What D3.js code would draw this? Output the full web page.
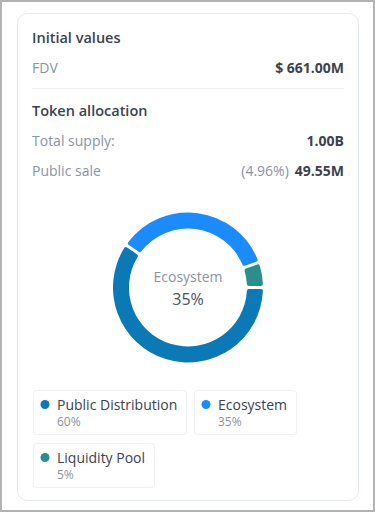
<!DOCTYPE html>
<html>
<head>
<meta charset="utf-8">
<script src="https://cdn.jsdelivr.net/npm/d3@7"></script>
<style>
  html, body { margin: 0; padding: 0; background: #fff; }
  body { width: 375px; height: 512px; overflow: hidden; }
  svg { display: block; font-family: "Open Sans", "Noto Sans", sans-serif; }
</style>
</head>
<body>
<script>
// chart data
const labels = ["Public Distribution", "Ecosystem", "Liquidity Pool"];
const values = [60, 35, 5];
const colors = ["#0a79b6", "#1a8cff", "#2a8f8c"];
const activeIndex = 1; // slice shown in the centre

// info rows
const sections = ["Initial values", "Token allocation"];
const fdv = "$ 661.00M";
const totalSupply = "1.00B";
const publicSalePct = "(4.96%)";
const publicSale = "49.55M";

const width = 375, height = 512;
const dark = "#3b4250", grey = "#8a93a5";

const svg = d3.select("body").append("svg")
  .attr("width", width)
  .attr("height", height);

// page frame
svg.append("rect")
  .attr("x", 1).attr("y", 1)
  .attr("width", width - 2).attr("height", height - 2)
  .attr("fill", "#fff")
  .attr("stroke", "#b3b3b3")
  .attr("stroke-width", 2);

// card
svg.append("rect")
  .attr("x", 17.5).attr("y", 13.5)
  .attr("width", 341).attr("height", 487)
  .attr("rx", 10)
  .attr("fill", "#fff")
  .attr("stroke", "#e4e9f0");

const left = 32, right = 344;

function row(y, label, bold, extra) {
  svg.append("text").attr("x", left).attr("y", y)
    .attr("font-size", 14).attr("fill", grey).text(label);
  const v = svg.append("text").attr("x", right).attr("y", y)
    .attr("text-anchor", "end")
    .attr("font-size", 14).attr("font-weight", 700).attr("fill", dark)
    .text(bold);
  if (extra) {
    const w = v.node().getComputedTextLength();
    svg.append("text").attr("x", right - w - 6).attr("y", y)
      .attr("text-anchor", "end")
      .attr("font-size", 14).attr("fill", grey).text(extra);
  }
}

svg.append("text").attr("x", left).attr("y", 43)
  .attr("font-size", 14.5).attr("font-weight", 600).attr("fill", dark)
  .text(sections[0]);
row(73, "FDV", fdv);

svg.append("line")
  .attr("x1", left).attr("x2", right)
  .attr("y1", 88.5).attr("y2", 88.5)
  .attr("stroke", "#eef0f4");

svg.append("text").attr("x", left).attr("y", 116)
  .attr("font-size", 14.5).attr("font-weight", 600).attr("fill", dark)
  .text(sections[1]);
row(146, "Total supply:", totalSupply);
row(176, "Public sale", publicSale, publicSalePct);

// donut
const cx = 188, cy = 287.5;
const pie = d3.pie()
  .sort(null)
  .startAngle(Math.PI / 2)
  .endAngle(Math.PI / 2 + 2 * Math.PI)
  .padAngle(0.032);

const arc = d3.arc()
  .innerRadius(59)
  .outerRadius(75)
  .cornerRadius(2);

const g = svg.append("g").attr("transform", `translate(${cx},${cy})`);
g.selectAll("path")
  .data(pie(values))
  .join("path")
  .attr("d", arc)
  .attr("fill", (d, i) => colors[i]);

g.append("text").attr("y", -6)
  .attr("text-anchor", "middle")
  .attr("font-size", 14).attr("fill", grey)
  .text(labels[activeIndex]);
g.append("text").attr("y", 17.5)
  .attr("text-anchor", "middle")
  .attr("font-size", 16).attr("fill", "#4a5162")
  .text(values[activeIndex] + "%");

// legend boxes with wrapping
let lx = 33, ly = 390;
const boxH = 45, gap = 8;
labels.forEach((name, i) => {
  const item = svg.append("g");
  const t = item.append("text")
    .attr("x", 24).attr("y", 20)
    .attr("font-size", 14).attr("fill", dark)
    .text(name);
  const w = Math.ceil(t.node().getComputedTextLength()) + 32;
  if (lx + w > right && lx > 33) { lx = 33; ly += boxH + gap; }
  item.attr("transform", `translate(${lx},${ly})`);
  item.insert("rect", "text")
    .attr("x", 0.5).attr("y", 0.5)
    .attr("width", w).attr("height", boxH - 1)
    .attr("rx", 3)
    .attr("fill", "#fff")
    .attr("stroke", "#eef0f4");
  item.append("circle")
    .attr("cx", 12).attr("cy", 14.5).attr("r", 4.5)
    .attr("fill", colors[i]);
  item.append("text")
    .attr("x", 24).attr("y", 35.5)
    .attr("font-size", 12).attr("fill", grey)
    .text(values[i] + "%");
  lx += w + gap;
});
</script>
</body>
</html>
